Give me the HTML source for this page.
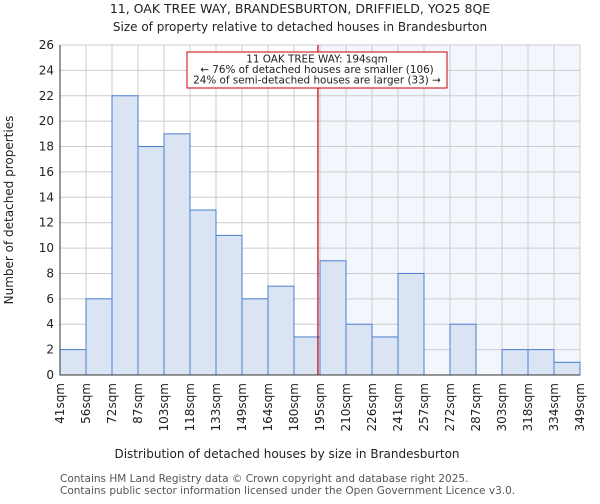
<!DOCTYPE html>
<html><head><meta charset="utf-8"><style>
body{margin:0;background:#fff;font-family:"DejaVu Sans","Liberation Sans",sans-serif;}
</style></head><body>
<svg id="c" width="600" height="500" xmlns="http://www.w3.org/2000/svg" font-family="DejaVu Sans, Liberation Sans, sans-serif">
<text x="300" y="13" text-anchor="middle" font-size="12.5" fill="#222">11, OAK TREE WAY, BRANDESBURTON, DRIFFIELD, YO25 8QE</text>
<text x="300" y="31" text-anchor="middle" font-size="12" fill="#222">Size of property relative to detached houses in Brandesburton</text>
<g id="plot"></g>
<text x="287" y="458" text-anchor="middle" font-size="12" fill="#222">Distribution of detached houses by size in Brandesburton</text>
<text transform="translate(13,210) rotate(-90)" text-anchor="middle" font-size="12" fill="#222">Number of detached properties</text>
<text x="60" y="482" font-size="10.5" fill="#555">Contains HM Land Registry data © Crown copyright and database right 2025.</text>
<text x="60" y="494" font-size="10.5" fill="#555">Contains public sector information licensed under the Open Government Licence v3.0.</text>
</svg>
<script>
const categories=["41sqm","56sqm","72sqm","87sqm","103sqm","118sqm","133sqm","149sqm","164sqm","180sqm","195sqm","210sqm","226sqm","241sqm","257sqm","272sqm","287sqm","303sqm","318sqm","334sqm","349sqm"];
const counts=[2,6,22,18,19,13,11,6,7,3,9,4,3,8,0,4,0,2,2,1];
const yTicks=[0,2,4,6,8,10,12,14,16,18,20,22,24,26];
const markerBin=9.92;
const NS="http://www.w3.org/2000/svg";
const L=60,R=580,T=45,B=375,yMax=26;
const bw=(R-L)/counts.length;
const xs=i=>L+i*bw;
const ys=v=>B-v/yMax*(B-T);
const g=document.getElementById('plot');
function mk(t,a){const e=document.createElementNS(NS,t);for(const k in a)e.setAttribute(k,a[k]);g.appendChild(e);return e;}
const mx=xs(markerBin);
let e=mk('rect',{x:mx,y:T,width:R-mx,height:B-T,fill:'#f3f6fc'});


yTicks.forEach(v=>{
 const l=mk('line',{x1:L,x2:R,y1:ys(v),y2:ys(v),stroke:'#ccc','stroke-width':1});
 
 
 const t=mk('text',{x:L-6,y:ys(v)+4,'text-anchor':'end','font-size':12,fill:'#222'});
 t.textContent=v;
 
 
});
categories.forEach((c,i)=>{
 const l=mk('line',{x1:xs(i),x2:xs(i),y1:T,y2:B,stroke:'#ccc','stroke-width':1});
 
 
 const t=mk('text',{transform:`translate(${xs(i)+4},${B+8}) rotate(-90)`,'text-anchor':'end','font-size':12,fill:'#222'});
 t.textContent=c;
 
 
});
counts.forEach((v,i)=>{
 if(v<=0)return;
 const r=mk('rect',{x:xs(i),y:ys(v),width:bw,height:B-ys(v),fill:'#dae4f3',stroke:'#4a7fd0','stroke-width':1});
 
 
});
e=mk('line',{x1:L,x2:L,y1:T,y2:B,stroke:'#333'});


e=mk('line',{x1:L,x2:R,y1:B,y2:B,stroke:'#333'});


e=mk('line',{x1:mx,x2:mx,y1:T,y2:B,stroke:'#cc0000','stroke-width':1.2});


e=mk('rect',{x:187,y:52,width:260,height:36,fill:'#fff',stroke:'#cc0000','stroke-width':1});


["11 OAK TREE WAY: 194sqm","← 76% of detached houses are smaller (106)","24% of semi-detached houses are larger (33) →"].forEach((s,i)=>{
 const t=mk('text',{x:317,y:62.5+i*10.5,'text-anchor':'middle','font-size':10.4,fill:'#222'});
 t.textContent=s;
 
 
});
</script>
</body></html>
